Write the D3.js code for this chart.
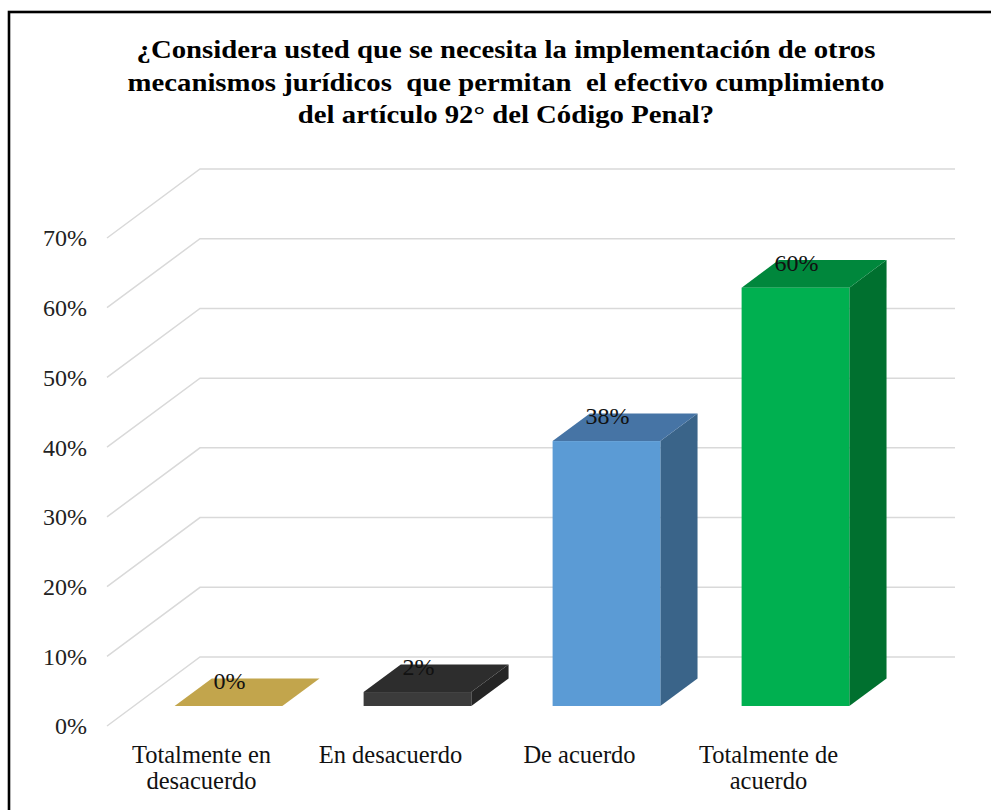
<!DOCTYPE html>
<html>
<head>
<meta charset="utf-8">
<script src="https://cdn.jsdelivr.net/npm/d3@7"></script>
<style>
  body { margin: 0; background: #fff; font-family: 'Liberation Serif', 'Times New Roman', Times, serif; }
  svg { display: block; }
  text { font-family: 'Liberation Serif', 'Times New Roman', Times, serif; }
</style>
</head>
<body>
<div id="chart"></div>
<script>
const width = 991;
const height = 810;
const serif = "'Liberation Serif', 'Times New Roman', Times, serif";

// data
const titleLines = [
    "¿Considera usted que se necesita la implementación de otros",
    "mecanismos jurídicos  que permitan  el efectivo cumplimiento",
    "del artículo 92° del Código Penal?"
];
const categories = ["Totalmente en desacuerdo", "En desacuerdo", "De acuerdo", "Totalmente de acuerdo"];
const values = [0, 0.02, 0.38, 0.60];
const yTicks = [0, 0.1, 0.2, 0.3, 0.4, 0.5, 0.6, 0.7];

// colours per bar: front, top, side
const frontColors = ["#C2A54C", "#3B3B3B", "#5B9BD5", "#00B050"];
const topColors = ["#C2A54C", "#2D2D2D", "#4674A5", "#00873C"];
const sideColors = ["#A88C3C", "#252525", "#3A6489", "#00702F"];

// 3D layout: depth vector of the floor/wall
const depthX = 93, depthY = -69;
const f0 = 0.29, f1 = 0.69; // bar depth fractions

const svg = d3.select("#chart")
    .append("svg")
    .attr("width", width)
    .attr("height", height)
    .attr("font-family", serif);

// frame
svg.append("rect")
    .attr("x", 9).attr("y", 12)
    .attr("width", 1100).attr("height", 900)
    .attr("fill", "none")
    .attr("stroke", "#000")
    .attr("stroke-width", 2.6);

// title (the original is a bit stretched sideways)
svg.append("g")
    .selectAll("g")
    .data(titleLines)
    .enter()
    .append("g")
    .attr("transform", (d, i) => `translate(506,${58 + i * 32.5}) scale(1.15,1)`)
    .append("text")
    .attr("text-anchor", "middle")
    .attr("font-family", serif)
    .attr("font-weight", "bold")
    .attr("font-size", 25)
    .attr("fill", "#000")
    .style("white-space", "pre")
    .text(d => d);

const x = d3.scaleBand()
    .domain(categories)
    .range([107, 863])
    .paddingInner(0.43)
    .paddingOuter(0.215);

const y = d3.scaleLinear()
    .domain([0, 0.7])
    .range([726, 238]);

// gridlines (diagonal on left wall + horizontal on back wall)
const grid = svg.append("g");
grid.selectAll("path")
    .data(yTicks)
    .enter()
    .append("path")
    .attr("d", d => `M107,${y(d)} L${107 + depthX},${y(d) + depthY} L955,${y(d) + depthY}`)
    .attr("fill", "none")
    .attr("stroke", "#D9D9D9")
    .attr("stroke-width", 1.5);

// y tick labels
svg.append("g")
    .selectAll("text")
    .data(yTicks)
    .enter()
    .append("text")
    .attr("x", 87)
    .attr("y", d => y(d))
    .attr("dy", "0.35em")
    .attr("text-anchor", "end")
    .attr("font-family", serif)
    .attr("font-size", 24)
    .attr("fill", "#222")
    .text(d3.format(".0%"));

// bars
const fx = f0 * depthX, fy = f0 * depthY;
const bx = (f1 - f0) * depthX, by = (f1 - f0) * depthY;

const bars = svg.append("g")
    .selectAll("g")
    .data(categories.map((c, i) => ({ c, v: values[i], i })))
    .enter()
    .append("g");

bars.each(function(d) {
    const g = d3.select(this);
    const x0 = x(d.c) + fx;
    const x1 = x0 + x.bandwidth();
    const yb = y(0) + fy;
    const yt = y(d.v) + fy;
    if (d.v > 0) {
        // side
        g.append("path")
            .attr("d", `M${x1},${yb} L${x1 + bx},${yb + by} L${x1 + bx},${yt + by} L${x1},${yt} Z`)
            .attr("fill", sideColors[d.i]);
    }
    // top
    g.append("path")
        .attr("d", `M${x0},${yt} L${x1},${yt} L${x1 + bx},${yt + by} L${x0 + bx},${yt + by} Z`)
        .attr("fill", topColors[d.i]);
    if (d.v > 0) {
        // front
        g.append("rect")
            .attr("x", x0)
            .attr("y", yt)
            .attr("width", x.bandwidth())
            .attr("height", yb - yt)
            .attr("fill", frontColors[d.i]);
    }
    // data label
    g.append("text")
        .attr("x", (x0 + x1) / 2 + 1)
        .attr("y", yt - 17)
        .attr("text-anchor", "middle")
        .attr("font-family", serif)
        .attr("font-size", 24)
        .attr("fill", "#111")
        .text(d3.format(".0%")(d.v));
});

// category labels with wrapping
const catY = 763;
const catLabels = svg.append("g")
    .selectAll("text")
    .data(categories)
    .enter()
    .append("text")
    .attr("text-anchor", "middle")
    .attr("font-family", serif)
    .attr("font-size", 24.5)
    .attr("fill", "#111")
    .attr("x", d => x(d) + x.bandwidth() / 2)
    .attr("y", catY);

catLabels.each(function(d) {
    const t = d3.select(this);
    const cx = x(d) + x.bandwidth() / 2;
    const words = d.split(" ");
    let line = [];
    let lineNo = 0;
    let tspan = t.append("tspan").attr("x", cx).attr("y", catY);
    words.forEach(w => {
        line.push(w);
        tspan.text(line.join(" "));
        if (tspan.node().getComputedTextLength() > 175 && line.length > 1) {
            line.pop();
            tspan.text(line.join(" "));
            line = [w];
            lineNo++;
            tspan = t.append("tspan").attr("x", cx).attr("y", catY + lineNo * 26).text(w);
        }
    });
});
</script>
</body>
</html>
